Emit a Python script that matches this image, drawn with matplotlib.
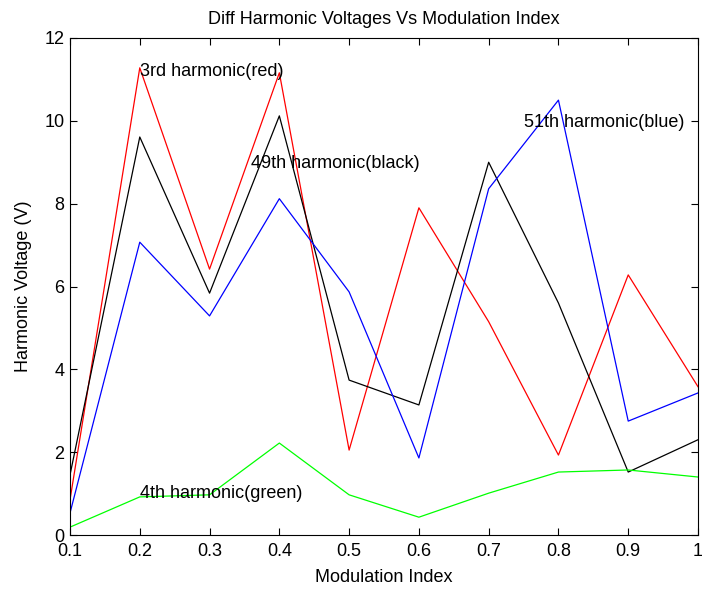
import matplotlib.pyplot as plt

plt.rcParams['font.family'] = ['Liberation Sans', 'DejaVu Sans']

m_index = [0.1, 0.2, 0.3, 0.4, 0.5, 0.6, 0.7, 0.8, 0.9, 1.0]
h3_red = [0.85, 11.28, 6.42, 11.16, 2.05, 7.9, 5.15, 1.93, 6.28, 3.58]
h49_black = [1.45, 9.61, 5.84, 10.12, 3.74, 3.14, 9.0, 5.6, 1.52, 2.3]
h51_blue = [0.53, 7.07, 5.29, 8.12, 5.87, 1.86, 8.36, 10.5, 2.75, 3.43]
h4_green = [0.19, 0.92, 0.97, 2.22, 0.97, 0.43, 1.01, 1.52, 1.57, 1.40]

xtick_labels = ['0.1', '0.2', '0.3', '0.4', '0.5', '0.6', '0.7', '0.8', '0.9', '1']

fig = plt.figure(figsize=(7.02, 5.92), dpi=100)
ax = fig.add_axes([70 / 702, 1 - 535 / 592, 628 / 702, 497 / 592])

lw = 0.9
ax.plot(m_index, h3_red, color='#ff0000', linewidth=lw)
ax.plot(m_index, h49_black, color='black', linewidth=lw)
ax.plot(m_index, h51_blue, color='#0000ff', linewidth=lw)
ax.plot(m_index, h4_green, color='#00ff00', linewidth=lw)

fs = 13
ax.text(0.2, 11.2, '3rd harmonic(red)', fontsize=fs, va='center')
ax.text(0.359, 8.98, '49th harmonic(black)', fontsize=fs, va='center')
ax.text(0.75, 9.95, '51th harmonic(blue)', fontsize=fs, va='center')
ax.text(0.2, 1.0, '4th harmonic(green)', fontsize=fs, va='center')

ax.set_xlim(0.1, 1.0)
ax.set_ylim(0, 12)
ax.set_xticks(m_index)
ax.set_xticklabels(xtick_labels)
ax.set_yticks(range(0, 13, 2))
ax.tick_params(direction='in', top=True, right=True, labelsize=fs, length=5)
ax.tick_params(axis='x', pad=6)
ax.tick_params(axis='y', pad=4)

ax.set_title('Diff Harmonic Voltages Vs Modulation Index', fontsize=fs, pad=10)
ax.set_xlabel('Modulation Index', fontsize=fs, labelpad=6)
ax.set_ylabel('Harmonic Voltage (V)', fontsize=fs, labelpad=9)

fig.savefig('out.png', dpi=100)
